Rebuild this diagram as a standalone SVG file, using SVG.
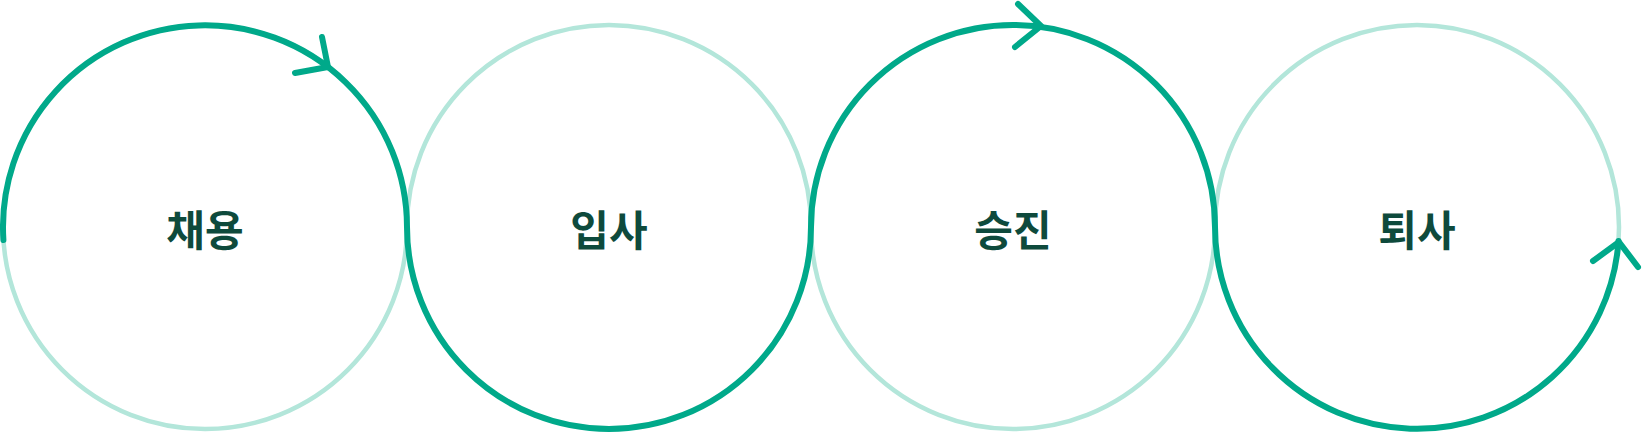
<svg xmlns="http://www.w3.org/2000/svg" width="1642" height="435" viewBox="0 0 1642 435">
  <style>
    .ring { fill: none; stroke: #b3e6da; stroke-width: 4.5; }
    .label { font-family: "Noto Sans CJK KR", "Noto Sans", sans-serif; font-size: 42px; font-weight: 700; fill: #0e4a3c; text-anchor: middle; dominant-baseline: central; }
    .flow { fill: none; stroke: #00a98a; stroke-width: 6; stroke-linecap: round; stroke-linejoin: round; }
  </style>
  <rect width="1642" height="435" fill="#ffffff"/>
  <g id="node-hire">
    <circle class="ring" cx="205" cy="227" r="202"/>
    <text class="label" x="205" y="227">채용</text>
  </g>
  <g id="node-join">
    <circle class="ring" cx="609" cy="227" r="202"/>
    <text class="label" x="609" y="227">입사</text>
  </g>
  <g id="node-promotion">
    <circle class="ring" cx="1013" cy="227" r="202"/>
    <text class="label" x="1013" y="227">승진</text>
  </g>
  <g id="node-retire">
    <circle class="ring" cx="1417" cy="227" r="202"/>
    <text class="label" x="1417" y="227">퇴사</text>
  </g>
  <g id="connectors">
    <path class="flow" d="M 3.4 240 A 202 202 0 1 1 407 227 A 202 202 0 0 0 811 227 A 202 202 0 0 1 1215 227 A 202 202 0 0 0 1618.5 241"/>
    <path class="flow" d="M 322 37 L 328 67 L 295 73"/>
    <path class="flow" d="M 1018 4 L 1041 26 L 1015 47"/>
    <path class="flow" d="M 1593 261 L 1619 242 L 1638 267"/>
  </g>
</svg>
